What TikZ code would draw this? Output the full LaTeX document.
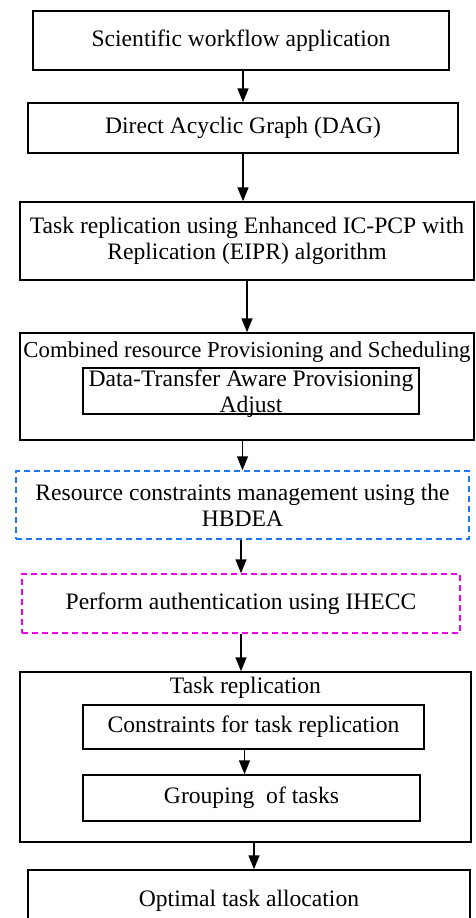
\documentclass[tikz,border=0pt]{standalone}
\usepackage{fontspec}
\setmainfont{Liberation Serif}
\usetikzlibrary{arrows.meta}
\definecolor{dashblue}{RGB}{30,120,245}
\definecolor{dashpink}{RGB}{240,0,240}

\begin{document}
\begin{tikzpicture}[x=0.5pt,y=-0.5pt]
        \tikzstyle{every node}+=[inner sep=0pt, align=center, font=\fontsize{11.8}{13}\selectfont]
        \tikzstyle{stage}=[draw=black, line width=0.75pt]
        \tikzstyle{arr}=[line width=0.75pt, -{Triangle[length=7pt,width=5.5pt]}]
        \useasboundingbox (0,0) rectangle (476,918);
        \clip (0,0) rectangle (476,918);
        % main stages
        \node (app) at (241,40.5) [stage, minimum width=208pt, minimum height=29.5pt] {Scientific workflow application};
        \node (dag) at (243,128) [stage, minimum width=215pt, minimum height=25pt] {Direct Acyclic Graph (DAG)};
        \node (eipr) at (247,241) [stage, minimum width=227pt, minimum height=39pt] {Task replication using Enhanced IC-PCP with\\Replication (EIPR) algorithm};
        \node (prov) at (247,386.5) [stage, minimum width=227pt, minimum height=53.5pt] {};
        \node (provtitle) at (247,352) [font=\fontsize{11.4}{13}\selectfont] {Combined resource Provisioning and Scheduling};
        \node (dtap) at (251,391) [stage, minimum width=168pt, minimum height=23pt, text depth=0pt] {Data-Transfer Aware Provisioning\\Adjust};
        \node (hbdea) at (242.5,505) [stage, draw=dashblue, dashed, dash pattern=on 3pt off 2pt, minimum width=226.5pt, minimum height=34pt] {Resource constraints management using the\\HBDEA};
        \node (auth) at (241,603.5) [stage, draw=dashpink, dashed, dash pattern=on 3pt off 2pt, minimum width=219pt, minimum height=29.5pt] {Perform authentication using IHECC};
        \node (repl) at (245.5,757) [stage, minimum width=225.5pt, minimum height=85pt] {};
        \node (repltitle) at (245.5,688) {Task replication};
        \node (cons) at (253.5,727) [stage, minimum width=170.5pt, minimum height=22pt] {Constraints for task replication};
        \node (grp) at (251.5,798) [stage, minimum width=168.5pt, minimum height=23pt] {Grouping~ of tasks};
        \node (alloc) at (249,901) [stage, minimum width=221pt, minimum height=31pt] {Optimal task allocation};
        % connectors
        \draw [arr] (dag.north |- app.south) -- (dag.north);
        \draw [arr] (dag.south) -- (dag.south |- eipr.north);
        \draw [arr] (eipr.south) -- (eipr.south |- prov.north);
        \draw [arr] (hbdea.north |- prov.south) -- (hbdea.north);
        \draw [arr] (auth.north |- hbdea.south) -- (auth.north);
        \draw [arr] (auth.south) -- (auth.south |- repl.north);
        \draw [arr, transform canvas={xshift=-3.5pt}] (grp.north |- cons.south) -- (grp.north);
        \draw [arr, transform canvas={xshift=2.5pt}] (alloc.north |- repl.south) -- (alloc.north);
\end{tikzpicture}
\end{document}
